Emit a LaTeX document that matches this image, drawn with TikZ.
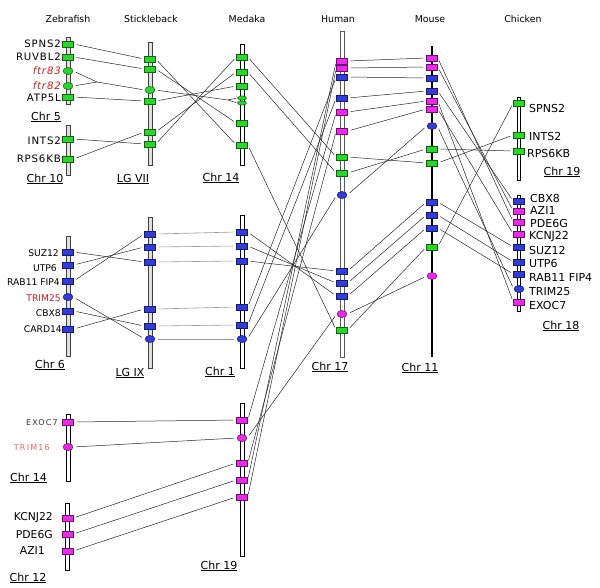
\documentclass[tikz,border=0pt]{standalone}
\usepackage{fontspec}
\setmainfont{DejaVu Sans}
\newfontfamily\widefont[LetterSpace=8]{DejaVu Sans}
\newfontfamily\widerfont[LetterSpace=15]{DejaVu Sans}
\usetikzlibrary{shapes.geometric}
\definecolor{mgreen}{RGB}{40,215,40}
\definecolor{mblue}{RGB}{50,60,220}
\definecolor{mmag}{RGB}{235,40,235}
\definecolor{lred}{RGB}{200,30,30}
\definecolor{lpink}{RGB}{220,100,100}
\tikzset{
  rm/.style={rectangle, draw=#1!45!black, fill=#1, minimum width=11pt, minimum height=5.5pt, inner sep=0pt, line width=0.5pt},
  em/.style={ellipse, draw=#1!45!black, fill=#1, minimum width=10pt, minimum height=7pt, inner sep=0pt, line width=0.5pt},
  sem/.style={ellipse, draw=#1!45!black, fill=#1, minimum width=9pt, minimum height=4.2pt, inner sep=0pt, line width=0.5pt},
  conn/.style={draw=black!85, line width=0.5pt, shorten <=3pt, shorten >=3pt},
  gconn/.style={draw=gray!80, line width=0.6pt, shorten <=3pt, shorten >=3pt},
  hconn/.style={draw=black!85, line width=0.5pt, shorten <=3pt},
  zbar/.style={draw=gray!50!black, fill=gray!25, line width=0.6pt},
  wbar/.style={draw=black, fill=white, line width=0.6pt},
  hbar/.style={draw=gray!70!black, fill=white, line width=0.6pt},
  title/.style={font=\fontsize{9.4}{10}\selectfont, inner sep=0pt},
  chrl/.style={font=\fontsize{11}{12}\selectfont, inner sep=0pt},
  zl/.style={font=\widefont\fontsize{10.2}{11}\selectfont, anchor=east, inner sep=0pt},
  zs/.style={font=\fontsize{9.2}{10}\selectfont, anchor=east, inner sep=0pt},
  zt/.style={font=\widerfont\fontsize{8}{9}\selectfont, anchor=east, inner sep=0pt},
  zb/.style={font=\fontsize{10.8}{12}\selectfont, anchor=east, inner sep=0pt},
  cl/.style={font=\fontsize{11}{12}\selectfont, anchor=west, inner sep=0pt},
}
\begin{document}
\begin{tikzpicture}[x=1pt,y=-1pt]
\useasboundingbox (0,0) rectangle (600,587);
% titles
\node[title] (tz) at (68,19) {Zebrafish};
\node[title] (ts) at (151,19) {Stickleback};
\node[title] (tm) at (247,19) {Medaka};
\node[title] (th) at (338,19) {Human};
\node[title] (tu) at (430,19) {Mouse};
\node[title] (tc) at (523,19) {Chicken};
% chromosome bars
\draw[zbar] (66,37) rectangle (70,104);
\draw[zbar] (66,125) rectangle (70,175);
\draw[zbar] (66,236) rectangle (70,356);
\draw[wbar] (66,414) rectangle (70,481);
\draw[wbar] (65.5,503) rectangle (69.5,570);
\draw[zbar] (148,42) rectangle (152,165);
\draw[zbar] (148,217) rectangle (152,368);
\draw[wbar] (240,44) rectangle (244,165);
\draw[wbar] (240,215) rectangle (244,368);
\draw[wbar] (240,403) rectangle (244,556);
\draw[hbar] (340,31) rectangle (344,357);
\draw[line width=1.6pt] (432,46) -- (432,357);
\draw[wbar] (517.5,97) rectangle (520.5,180);
\draw[wbar] (517.5,195) rectangle (520.5,311);
% chromosome labels
\node[chrl] (lc5) at (46,117) {\underline{Chr 5}};
\node[chrl] (lc10) at (45,179) {\underline{Chr 10}};
\node[chrl] (llg7) at (133,179) {\underline{LG VII}};
\node[chrl] (lm14) at (221,178) {\underline{Chr 14}};
\node[chrl] (lc6) at (50,365) {\underline{Chr 6}};
\node[chrl] (llg9) at (130,373) {\underline{LG IX}};
\node[chrl] (lm1) at (220,372) {\underline{Chr 1}};
\node[chrl] (lh17) at (330,367) {\underline{Chr 17}};
\node[chrl] (lu11) at (420,368) {\underline{Chr 11}};
\node[chrl] (lc18) at (561,326) {\underline{Chr 18}};
\node[chrl] (lc19) at (562,172) {\underline{Chr 19}};
\node[chrl] (lz14) at (28.5,478) {\underline{Chr 14}};
\node[chrl] (lz12) at (28,578) {\underline{Chr 12}};
\node[chrl] (lm19) at (219,566) {\underline{Chr 19}};
% zebrafish markers
\node[rm=mgreen] (z5a) at (68,44) {};
\node[rm=mgreen] (z5b) at (68,57) {};
\node[em=mgreen] (z5c) at (68,71) {};
\node[em=mgreen] (z5d) at (68,86) {};
\node[rm=mgreen] (z5e) at (68,97) {};
\node[rm=mgreen] (z10a) at (68,139) {};
\node[rm=mgreen] (z10b) at (68,159) {};
\node[rm=mblue] (z6a) at (68,252) {};
\node[rm=mblue] (z6b) at (68,265) {};
\node[rm=mblue] (z6c) at (68,281) {};
\node[em=mblue] (z6d) at (68,297) {};
\node[rm=mblue] (z6e) at (68,311) {};
\node[rm=mblue] (z6f) at (68,329) {};
\node[rm=mmag] (z14a) at (68,422) {};
\node[em=mmag] (z14b) at (68,447) {};
\node[rm=mmag] (z12a) at (67.5,518) {};
\node[rm=mmag] (z12b) at (67.5,534) {};
\node[rm=mmag] (z12c) at (67.5,551) {};
% zebrafish labels
\node[zl] (t5a) at (61,44) {SPNS2};
\node[zl] (t5b) at (61,57) {RUVBL2};
\node[zl, text=lred] (t5c) at (61,71) {\itshape ftr83};
\node[zl, text=lred] (t5d) at (61,86) {\itshape ftr82};
\node[zl] (t5e) at (61,98) {ATP5L};
\node[zl] (t10a) at (61,141) {INTS2};
\node[zl] (t10b) at (61,159) {RPS6KB};
\node[zs] (t6a) at (59,253) {SUZ12};
\node[zs] (t6b) at (57,268) {UTP6};
\node[zs] (t6c) at (60,282) {RAB11 FIP4};
\node[zs, text=lred] (t6d) at (61,298) {TRIM25};
\node[zs] (t6e) at (61,313) {CBX8};
\node[zs] (t6f) at (62,329) {CARD14};
\node[zt, text=black!80] (t14a) at (58,423) {EXOC7};
\node[zt, text=lpink] (t14b) at (50,448) {TRIM16};
\node[zb] (t12a) at (53,518) {KCNJ22};
\node[zb] (t12b) at (53,535) {PDE6G};
\node[zb] (t12c) at (45,551) {AZI1};
% stickleback markers
\node[rm=mgreen] (s7a) at (150,59) {};
\node[rm=mgreen] (s7b) at (150,69) {};
\node[em=mgreen] (s7c) at (150,90) {};
\node[rm=mgreen] (s7d) at (150,101) {};
\node[rm=mgreen] (s7e) at (150,132) {};
\node[rm=mgreen] (s7f) at (150,144) {};
\node[rm=mblue] (s9a) at (150,234) {};
\node[rm=mblue] (s9b) at (150,247) {};
\node[rm=mblue] (s9c) at (150,262) {};
\node[rm=mblue] (s9d) at (150,309) {};
\node[rm=mblue] (s9e) at (150,326) {};
\node[em=mblue] (s9f) at (150,339) {};
% medaka markers
\node[rm=mgreen] (m14a) at (242,57) {};
\node[rm=mgreen] (m14b) at (242,72) {};
\node[rm=mgreen] (m14c) at (242,86) {};
\node[sem=mgreen] (m14d) at (242,98) {};
\node[sem=mgreen] (m14e) at (242,103) {};
\node[rm=mgreen] (m14f) at (242,123) {};
\node[rm=mgreen] (m14g) at (242,145) {};
\node[rm=mblue] (m1a) at (242,232) {};
\node[rm=mblue] (m1b) at (242,246) {};
\node[rm=mblue] (m1c) at (242,261) {};
\node[rm=mblue] (m1d) at (242,307) {};
\node[rm=mblue] (m1e) at (242,325) {};
\node[em=mblue] (m1f) at (242,339) {};
\node[rm=mmag] (m19a) at (242,420) {};
\node[em=mmag] (m19b) at (242,438) {};
\node[rm=mmag] (m19c) at (242,463) {};
\node[rm=mmag] (m19d) at (242,480) {};
\node[rm=mmag] (m19e) at (242,497) {};
% human markers
\node[rm=mmag] (h1) at (342,61) {};
\node[rm=mmag] (h2) at (342,68) {};
\node[rm=mblue] (h3) at (342,77) {};
\node[rm=mblue] (h4) at (342,98) {};
\node[rm=mmag] (h5) at (342,112) {};
\node[rm=mmag] (h6) at (342,131) {};
\node[rm=mgreen] (h7) at (342,157) {};
\node[rm=mgreen] (h8) at (342,173) {};
\node[em=mblue] (h9) at (342,195) {};
\node[rm=mblue] (h10) at (342,271) {};
\node[rm=mblue] (h11) at (342,283) {};
\node[rm=mblue] (h12) at (342,296) {};
\node[em=mmag] (h13) at (342,314) {};
\node[rm=mgreen] (h14) at (342,330) {};
% mouse markers
\node[rm=mmag] (u1) at (432,58) {};
\node[rm=mmag] (u2) at (432,67) {};
\node[rm=mblue] (u3) at (432,78) {};
\node[rm=mblue] (u4) at (432,91) {};
\node[rm=mmag] (u5) at (432,101) {};
\node[rm=mmag] (u6) at (432,109) {};
\node[em=mblue] (u7) at (432,126) {};
\node[rm=mgreen] (u8) at (432,149) {};
\node[rm=mgreen] (u9) at (432,163) {};
\node[rm=mblue] (u10) at (432,202) {};
\node[rm=mblue] (u11) at (432,215) {};
\node[rm=mblue] (u12) at (432,228) {};
\node[rm=mgreen] (u13) at (432,247) {};
\node[em=mmag] (u14) at (432,276) {};
% chicken markers
\node[rm=mgreen] (c1) at (519,103) {};
\node[rm=mgreen] (c2) at (519,135) {};
\node[rm=mgreen] (c3) at (519,151) {};
\node[rm=mblue] (c4) at (519,201) {};
\node[rm=mmag] (c5) at (519,211) {};
\node[rm=mmag] (c6) at (519,222) {};
\node[rm=mmag] (c7) at (519,234) {};
\node[rm=mblue] (c8) at (519,247) {};
\node[rm=mblue] (c9) at (519,262) {};
\node[rm=mblue] (c10) at (519,274) {};
\node[em=mblue] (c11) at (519,289) {};
\node[rm=mmag] (c12) at (519,302) {};
% chicken labels
\node[cl] (k1) at (529,108) {SPNS2};
\node[cl] (k2) at (529,136) {INTS2};
\node[cl] (k3) at (527,153) {RPS6KB};
\node[cl] (k4) at (530,198) {CBX8};
\node[cl] (k5) at (530,210) {AZI1};
\node[cl] (k6) at (530,223) {PDE6G};
\node[cl] (k7) at (529,237) {KCNJ22};
\node[cl] (k8) at (529,250) {SUZ12};
\node[cl] (k9) at (529,263) {UTP6};
\node[cl] (k10) at (529,277) {RAB11 FIP4};
\node[cl] (k11) at (529,291) {TRIM25};
\node[cl] (k12) at (529,305) {EXOC7};
% junction points
\coordinate (jz) at (97,82);
\coordinate (jm) at (228,100);
% zebrafish -> stickleback
\draw[conn] (z5a.east) -- (s7a.west);
\draw[conn] (z5b.east) -- (s7b.west);
\draw[hconn] (z5c.east) -- (jz);
\draw[hconn] (z5d.east) -- (jz);
\draw[conn, shorten <=0pt] (jz) -- (s7c.west);
\draw[conn] (z5e.east) -- (s7d.west);
\draw[conn] (z10a.east) -- (s7f.west);
\draw[conn] (z10b.east) -- (s7e.west);
\draw[conn] (z6a.east) -- (s9c.west);
\draw[conn] (z6b.east) -- (s9b.west);
\draw[conn] (z6c.east) -- (s9a.west);
\draw[conn] (z6d.east) -- (s9f.west);
\draw[conn] (z6e.east) -- (s9e.west);
\draw[conn] (z6f.east) -- (s9d.west);
% stickleback -> medaka
\draw[conn] (s7a.east) -- (m14g.west);
\draw[conn] (s7b.east) -- (m14f.west);
\draw[conn, shorten >=0pt] (s7c.east) -- (jm);
\draw[conn, shorten <=0pt, shorten >=1pt] (jm) -- (m14d.west);
\draw[conn, shorten <=0pt, shorten >=1pt] (jm) -- (m14e.west);
\draw[conn] (s7d.east) -- (m14c.west);
\draw[conn] (s7e.east) -- (m14b.west);
\draw[conn] (s7f.east) -- (m14a.west);
\draw[gconn] (s9a.east) -- (m1a.west);
\draw[gconn] (s9b.east) -- (m1b.west);
\draw[gconn] (s9c.east) -- (m1c.west);
\draw[gconn] (s9d.east) -- (m1d.west);
\draw[gconn] (s9e.east) -- (m1e.west);
\draw[gconn] (s9f.east) -- (m1f.west);
% zebrafish -> medaka chr19
\draw[conn] (z14a.east) -- (m19a.west);
\draw[conn] (z14b.east) -- (m19b.west);
\draw[conn] (z12a.east) -- (m19c.west);
\draw[conn] (z12b.east) -- (m19d.west);
\draw[conn] (z12c.east) -- (m19e.west);
% medaka -> human
\draw[conn] (m14a.east) -- (h7.west);
\draw[conn] (m14b.east) -- (h8.west);
\draw[conn] (m14g.east) -- (h14.west);
\draw[conn] (m1a.east) -- (h12.west);
\draw[conn] (m1b.east) -- (h11.west);
\draw[conn] (m1c.east) -- (h10.west);
\draw[conn] (m1d.east) -- (h3.west);
\draw[conn] (m1e.east) -- (h4.west);
\draw[conn] (m1f.east) -- (h9.west);
\draw[conn] (m19a.east) -- (h5.west);
\draw[conn] (m19b.east) -- (h13.west);
\draw[conn] (m19c.east) -- (h6.west);
\draw[conn] (m19d.east) -- (h1.west);
\draw[conn] (m19e.east) -- (h2.west);
% human -> mouse
\draw[conn] (h1.east) -- (u1.west);
\draw[conn] (h2.east) -- (u2.west);
\draw[conn] (h3.east) -- (u3.west);
\draw[conn] (h4.east) -- (u4.west);
\draw[conn] (h5.east) -- (u5.west);
\draw[conn] (h6.east) -- (u6.west);
\draw[conn] (h7.east) -- (u9.west);
\draw[conn] (h8.east) -- (u8.west);
\draw[conn] (h9.east) -- (u7.west);
\draw[conn] (h10.east) -- (u10.west);
\draw[conn] (h11.east) -- (u11.west);
\draw[conn] (h12.east) -- (u12.west);
\draw[conn] (h13.east) -- (u14.west);
\draw[conn] (h14.east) -- (u13.west);
% mouse -> chicken
\draw[conn] (u1.east) -- (c6.west);
\draw[conn] (u2.east) -- (c5.west);
\draw[conn] (u4.east) -- (c4.west);
\draw[conn] (u5.east) -- (c12.west);
\draw[conn] (u6.east) -- (c7.west);
\draw[conn] (u7.east) -- (c11.west);
\draw[conn] (u8.east) -- (c3.west);
\draw[conn] (u9.east) -- (c2.west);
\draw[conn] (u10.east) -- (c8.west);
\draw[conn] (u11.east) -- (c9.west);
\draw[conn] (u12.east) -- (c10.west);
\draw[conn] (u13.east) -- (c1.west);
\end{tikzpicture}
\end{document}
